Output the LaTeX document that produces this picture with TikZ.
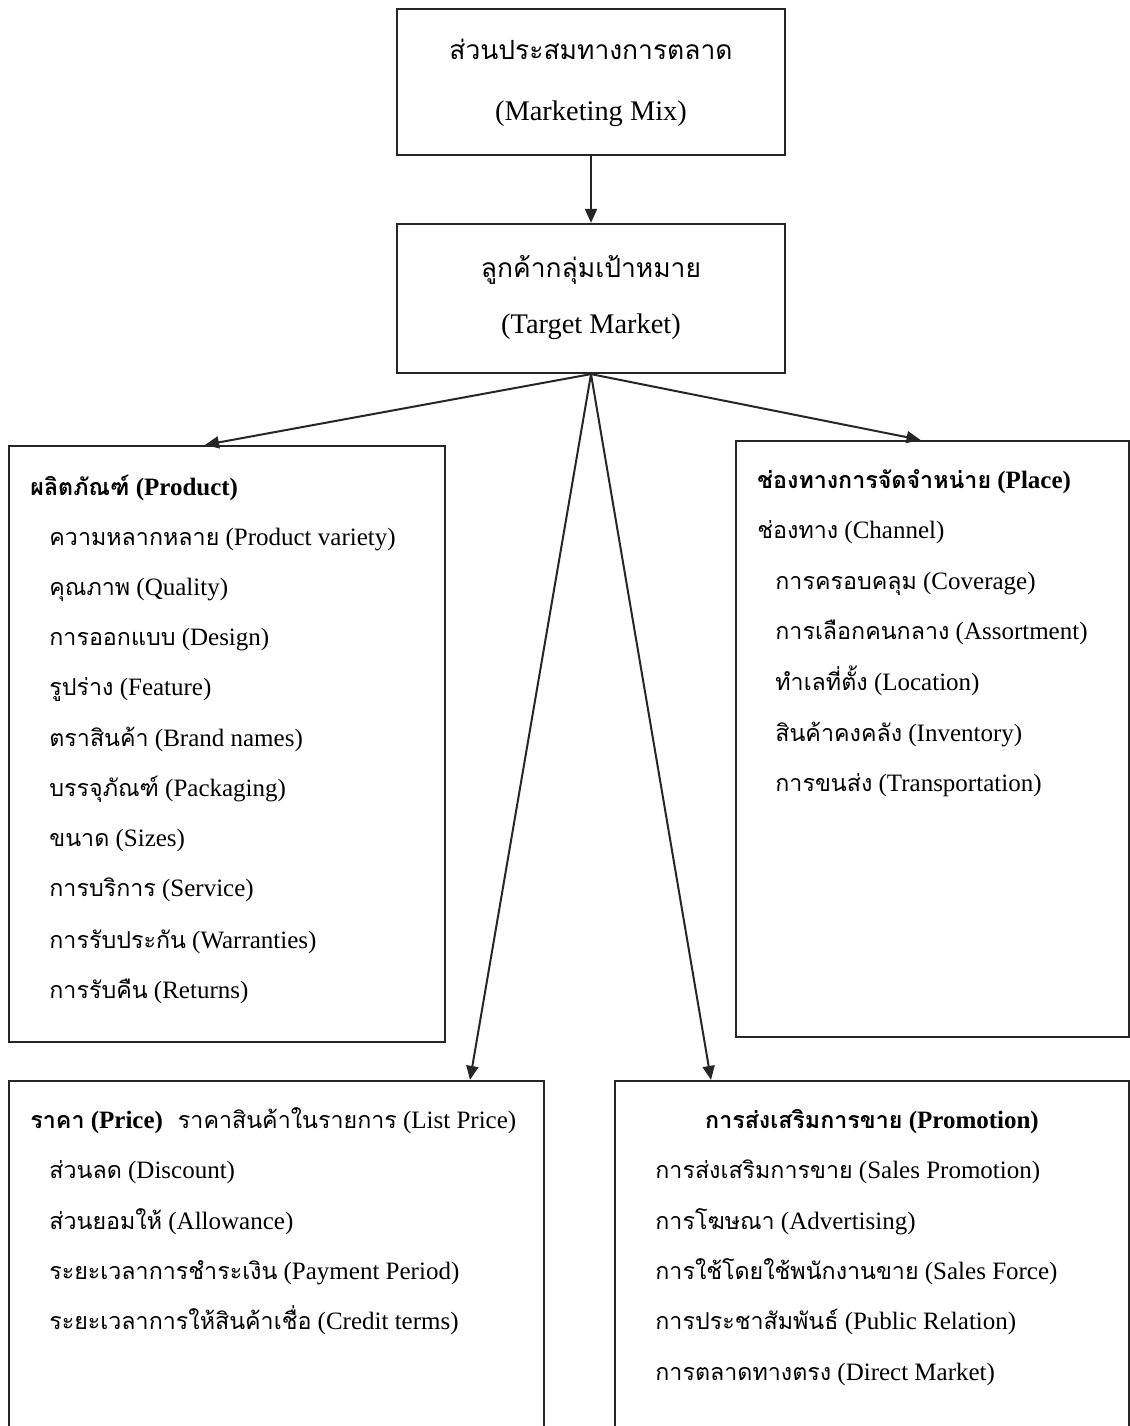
\documentclass[tikz,border=0pt]{standalone}
\usepackage{fontspec}
\setmainfont{Liberation Serif}
\newfontfamily\thaifont[Script=Thai, Scale=0.93]{Loma}
\newcommand{\thx}[1]{{\thaifont #1}}
\usetikzlibrary{arrows.meta}

\begin{document}
\begin{tikzpicture}[
    x=0.5pt, y=-0.5pt,
    box/.style={draw=black!85, line width=1.1pt, inner sep=0pt},
    headline/.style={font=\fontsize{14.2}{16}\selectfont, text height=0.75em, text depth=0.25em, inner sep=0pt},
    item/.style={font=\fontsize{12.5}{15}\selectfont, anchor=west, text height=0.75em, text depth=0.25em, inner sep=0pt},
    itemhead/.style={item, font=\fontsize{12.5}{15}\selectfont\bfseries},
    arr/.style={-{Triangle[length=7pt, width=6pt]}, line width=1pt, black!85},
  ]
  \path[use as bounding box, clip] (0,0) rectangle (1130,1426);
  \node[box, minimum width=194pt, minimum height=73pt] (mix) at (591,82) {};
  \node[box, minimum width=194pt, minimum height=74.5pt] (target) at (591,298.5) {};
  \node[box, minimum width=218pt, minimum height=298pt] (product) at (227,744) {};
  \node[box, minimum width=196.5pt, minimum height=298pt] (place) at (932.5,739) {};
  \node[box, minimum width=267.5pt, minimum height=189.5pt] (price) at (276.5,1270.5) {};
  \node[box, minimum width=257pt, minimum height=189.5pt] (promo) at (872,1270.5) {};
  \node[headline] (mixth) at (591,54) {\thx{ส่วนประสมทางการตลาด}};
  \node[headline] (mixen) at (591,115) {(Marketing Mix)};
  \node[headline] (targetth) at (591,272) {\thx{ลูกค้ากลุ่มเป้าหมาย}};
  \node[headline] (targeten) at (591,328) {(Target Market)};
  \draw[arr] (mix.south) -- (target.north);
  \draw[arr] (target.south) -- ([xshift=-11pt]product.north);
  \draw[arr] (target.south) -- ([xshift=-6pt]place.north);
  \draw[arr] (target.south) -- ([xshift=96.75pt]price.north);
  \draw[arr] (target.south) -- ([xshift=-80.5pt]promo.north);
  \node[itemhead] (producthead) at (30,490) {\thx{ผลิตภัณฑ์} (Product)};
  \foreach \y/\txt [count=\i] in {540/{\thx{ความหลากหลาย} (Product variety)}, 590/{\thx{คุณภาพ} (Quality)},
      640/{\thx{การออกแบบ} (Design)}, 690/{\thx{รูปร่าง} (Feature)}, 741/{\thx{ตราสินค้า} (Brand names)},
      791/{\thx{บรรจุภัณฑ์} (Packaging)}, 841/{\thx{ขนาด} (Sizes)}, 891/{\thx{การบริการ} (Service)},
      943/{\thx{การรับประกัน} (Warranties)}, 993/{\thx{การรับคืน} (Returns)}} {
    \node[item] (product\i) at (49,\y) {\txt};
  }
  \node[itemhead] (placehead) at (757,483) {\thx{ช่องทางการจัดจำหน่าย} (Place)};
  \node[item] (channel) at (757,533) {\thx{ช่องทาง} (Channel)};
  \foreach \y/\txt [count=\i] in {584/{\thx{การครอบคลุม} (Coverage)}, 634/{\thx{การเลือกคนกลาง} (Assortment)},
      685/{\thx{ทำเลที่ตั้ง} (Location)}, 736/{\thx{สินค้าคงคลัง} (Inventory)}, 786/{\thx{การขนส่ง} (Transportation)}} {
    \node[item] (place\i) at (775,\y) {\txt};
  }
  \node[item] (pricehead) at (30,1123) {{\bfseries\thx{ราคา} (Price)}\hspace{0.6em}\thx{ราคาสินค้าในรายการ} (List Price)};
  \foreach \y/\txt [count=\i] in {1173/{\thx{ส่วนลด} (Discount)}, 1224/{\thx{ส่วนยอมให้} (Allowance)},
      1274/{\thx{ระยะเวลาการชำระเงิน} (Payment Period)}, 1324/{\thx{ระยะเวลาการให้สินค้าเชื่อ} (Credit terms)}} {
    \node[item] (price\i) at (49,\y) {\txt};
  }
  \node[itemhead, anchor=center] (promohead) at (872,1123) {\thx{การส่งเสริมการขาย} (Promotion)};
  \foreach \y/\txt [count=\i] in {1173/{\thx{การส่งเสริมการขาย} (Sales Promotion)}, 1224/{\thx{การโฆษณา} (Advertising)},
      1274/{\thx{การใช้โดยใช้พนักงานขาย} (Sales Force)}, 1324/{\thx{การประชาสัมพันธ์} (Public Relation)},
      1375/{\thx{การตลาดทางตรง} (Direct Market)}} {
    \node[item] (promo\i) at (655,\y) {\txt};
  }
\end{tikzpicture}
\end{document}
